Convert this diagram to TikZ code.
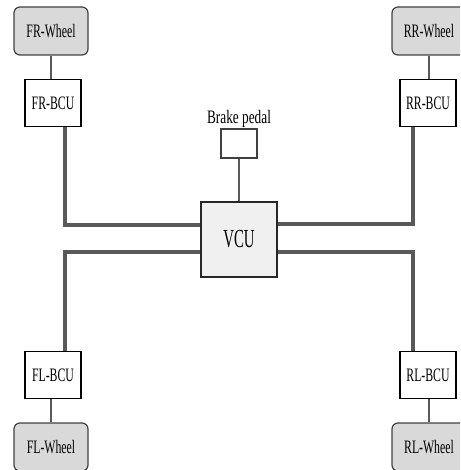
\documentclass[tikz,border=0pt]{standalone}
\usepackage{fontspec}
\setmainfont{Liberation Serif}
\usepackage{graphicx}
\newcommand\sqz[1]{\scalebox{0.62}[1]{#1}}
\begin{document}
\begin{tikzpicture}[x=1pt,y=-1pt,
  lbl/.style={font=\fontsize{19}{21}\selectfont},
  wheel/.style={lbl, draw=black!75, line width=1.2pt, fill=black!15, rounded corners=6pt, minimum width=74pt, minimum height=48pt, inner sep=0pt},
  bcu/.style={lbl, draw=black, line width=1.2pt, fill=white, minimum width=56pt, minimum height=47pt, inner sep=0pt},
  vcubox/.style={draw=black!85, line width=1.2pt, fill=black!6, minimum width=76pt, minimum height=75pt, inner sep=0pt, font=\fontsize{26}{28}\selectfont},
  pedalbox/.style={draw=black!75, line width=1.2pt, fill=white, minimum width=36pt, minimum height=29pt, inner sep=0pt},
  bus/.style={draw=black!65, line width=3.5pt},
  link/.style={draw=black!65, line width=2pt}]
\useasboundingbox (0,0) rectangle (460,470);
\clip (0,0) rectangle (460,470);
% wheels and BCUs
\node[wheel] (frw) at (51,31) {\sqz{FR-Wheel}};
\node[wheel] (rrw) at (429,31) {\sqz{RR-Wheel}};
\node[wheel] (flw) at (51,447) {\sqz{FL-Wheel}};
\node[wheel] (rlw) at (429,447) {\sqz{RL-Wheel}};
\node[bcu] (frbcu) at (53,103) {\sqz{FR-BCU}};
\node[bcu] (rrbcu) at (428,103) {\sqz{RR-BCU}};
\node[bcu] (flbcu) at (53,375) {\sqz{FL-BCU}};
\node[bcu] (rlbcu) at (428,375) {\sqz{RL-BCU}};
% VCU and pedal
\node[vcubox] (vcu) at (239,239.5) {\scalebox{0.57}[1]{VCU}};
\node[pedalbox] (pedal) at (239,143.5) {};
\node[lbl, anchor=base, inner sep=0pt] (pedallbl) at (239,124) {\scalebox{0.7}[1]{Brake pedal}};
% links
\draw[link] (frw.south) -- (frw.south |- frbcu.north);
\draw[link] (rrw.south) -- (rrw.south |- rrbcu.north);
\draw[link] (flbcu.south -| flw.north) -- (flw.north);
\draw[link] (rlbcu.south -| rlw.north) -- (rlw.north);
\draw[link] (pedal.south) -- (vcu.north);
% bus
\coordinate (a) at (65,225);
\coordinate (b) at (65,252);
\coordinate (c) at (413,224);
\coordinate (d) at (413,252);
\draw[bus] (frbcu.south -| a) |- (vcu.west |- a);
\draw[bus] (flbcu.north -| b) |- (vcu.west |- b);
\draw[bus] (rrbcu.south -| c) |- (vcu.east |- c);
\draw[bus] (rlbcu.north -| d) |- (vcu.east |- d);
\end{tikzpicture}
\end{document}
